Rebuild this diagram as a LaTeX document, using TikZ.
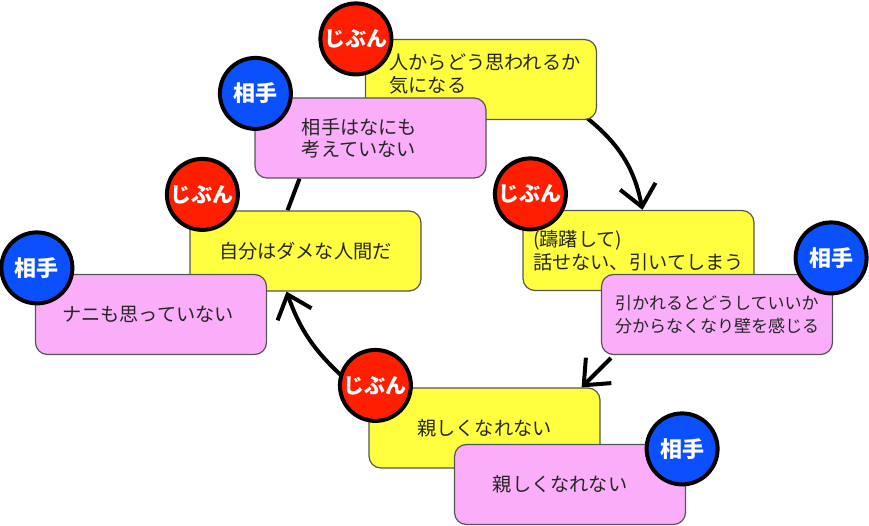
\documentclass[tikz,border=0pt]{standalone}
\usepackage{fontspec}
\usepackage{xcolor}
\usepackage{tikz}
\usetikzlibrary{arrows.meta, positioning, backgrounds}
\newfontfamily\jp{Noto Sans CJK JP}
\definecolor{lemon}{RGB}{255,255,64}
\definecolor{blush}{RGB}{250,174,250}
\definecolor{tagred}{RGB}{255,30,0}
\definecolor{tagblue}{RGB}{10,80,255}
\definecolor{rim}{RGB}{85,85,85}

\begin{document}
\begin{tikzpicture}[x=1pt, y=-1pt,
      every node/.style={font=\jp\fontsize{19.2}{22.5}\selectfont, text=black!85},
      box/.style={draw=rim, line width=1.2pt, rounded corners=12pt, align=left,
                  minimum width=231pt, minimum height=80pt, inner sep=0pt},
      mine/.style={box, fill=lemon},
      theirs/.style={box, fill=blush},
      tag/.style={circle, draw=black, line width=4pt, minimum size=71pt, inner sep=0pt,
                  text=white, font=\jp\bfseries\fontsize{21}{22}\selectfont},
      tagme/.style={tag, fill=tagred},
      tagyou/.style={tag, fill=tagblue, font=\jp\bfseries\fontsize{22}{24}\selectfont},
      cyc/.style={line width=4pt, -{Straight Barb[length=21pt, width=36pt]}}]
    \useasboundingbox (0,0) rectangle (869,526);

    % top
    \node[mine, text depth=13pt] (y1) at (481,79.5)
      {\hspace*{8pt}人からどう思われるか\\\hspace*{8pt}気になる};
    \node[tagme] (c1) at ([shift={(-9,0)}]y1.north west) {じぶん};
    \node[theirs] (p1) at (370.5,138) {相手はなにも\hspace*{22pt}\\考えていない};
    \node[tagyou] (c2) at ([shift={(1,-4)}]p1.north west) {相手};

    % right
    \node[mine] (y2) at (638.5,250.5) {(躊躇して)\\話せない、引いてしまう};
    \node[tagme] (c5) at ([shift={(8,-16)}]y2.north west) {じぶん};
    \node[theirs, font=\jp\fontsize{17}{22.5}\selectfont] (p2) at (717,314.5)
      {引かれるとどうしていいか\\分からなくなり壁を感じる};
    \node[tagyou] (c6) at ([shift={(-2,-16)}]p2.north east) {相手};

    % left
    \node[mine] (y3) at (305.5,251) {自分はダメな人間だ};
    \node[tagme] (c3) at ([shift={(13,-16)}]y3.north west) {じぶん};
    \node[theirs] (p3) at (151,314.5) {ナニも思っていない\hspace*{6pt}};
    \node[tagyou] (c4) at ([shift={(2,-6)}]p3.north west) {相手};

    % bottom
    \node[mine] (y4) at (484.5,428) {親しくなれない};
    \node[tagme] (c7) at ([shift={(7,-2)}]y4.north west) {じぶん};
    \node[theirs] (p4) at (570,484.5) {親しくなれない\hspace*{20pt}};
    \node[tagyou] (c8) at ([shift={(-4,5)}]p4.north east) {相手};

    \begin{scope}[on background layer]
      \draw[cyc] ([shift={(-10,-2)}]y1.south east) to[bend left=20] ([shift={(4,0)}]y2.north);
      \draw[cyc] ([shift={(10,3)}]p2.south west) -- ([shift={(-19,0)}]y4.north east);
      \draw[cyc] ([shift={(-32,-8)}]c7.center) to[bend left=14] ([shift={(-19,0)}]y3.south);
      \draw[line width=4pt] ([shift={(-18,0)}]y3.north) -- ([shift={(-71,0)}]p1.south);
    \end{scope}
  \end{tikzpicture}
\end{document}
